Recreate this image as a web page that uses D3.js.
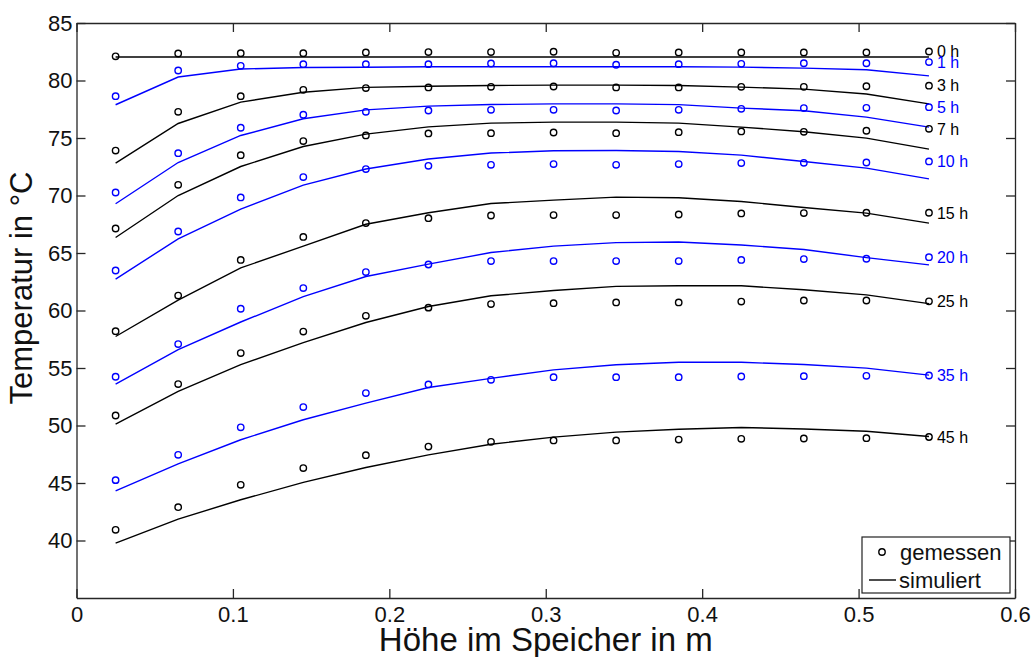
<!DOCTYPE html>
<html>
<head>
<meta charset="utf-8">
<script src="https://cdn.jsdelivr.net/npm/d3@7"></script>
<style>
  body { margin: 0; background: #fff; }
  svg { font-family: "Liberation Sans", Arial, sans-serif; }
</style>
</head>
<body>
<svg id="chart"></svg>
<script>
// Heights in the tank (m)
const heights = [0.025, 0.065, 0.105, 0.145, 0.185, 0.225, 0.265, 0.305, 0.345, 0.385, 0.425, 0.465, 0.505, 0.545];

// Series labels (time)
const labels = ["0 h", "1 h", "3 h", "5 h", "7 h", "10 h", "15 h", "20 h", "25 h", "35 h", "45 h"];

// Measured temperatures (gemessen)
const meas0 = [82.1, 82.35, 82.38, 82.38, 82.44, 82.47, 82.47, 82.5, 82.41, 82.44, 82.44, 82.44, 82.44, 82.52];
const meas1 = [78.64, 80.87, 81.28, 81.42, 81.42, 81.42, 81.48, 81.5, 81.37, 81.42, 81.45, 81.5, 81.5, 81.6];
const meas3 = [73.91, 77.28, 78.64, 79.19, 79.34, 79.4, 79.45, 79.48, 79.4, 79.4, 79.45, 79.45, 79.5, 79.55];
const meas5 = [70.26, 73.68, 75.89, 77.02, 77.28, 77.39, 77.45, 77.45, 77.39, 77.45, 77.54, 77.6, 77.62, 77.68];
const meas7 = [67.13, 70.93, 73.51, 74.73, 75.22, 75.4, 75.42, 75.48, 75.42, 75.51, 75.57, 75.54, 75.63, 75.8];
const meas10 = [63.48, 66.87, 69.83, 71.6, 72.3, 72.58, 72.67, 72.73, 72.67, 72.73, 72.82, 72.84, 72.87, 72.96];
const meas15 = [58.2, 61.3, 64.4, 66.4, 67.6, 68.03, 68.26, 68.3, 68.3, 68.35, 68.44, 68.47, 68.5, 68.5];
const meas20 = [54.24, 57.08, 60.15, 61.95, 63.34, 64.0, 64.3, 64.3, 64.3, 64.3, 64.4, 64.47, 64.5, 64.64];
const meas25 = [50.87, 53.6, 56.3, 58.17, 59.54, 60.25, 60.56, 60.64, 60.7, 60.7, 60.78, 60.87, 60.87, 60.8];
const meas35 = [45.25, 47.45, 49.84, 51.6, 52.82, 53.57, 53.97, 54.2, 54.2, 54.2, 54.26, 54.29, 54.32, 54.35];
const meas45 = [40.93, 42.9, 44.84, 46.3, 47.42, 48.17, 48.58, 48.7, 48.7, 48.78, 48.84, 48.87, 48.9, 49.0];

// Simulated temperatures (simuliert)
const sim0 = [82.05, 82.05, 82.05, 82.05, 82.05, 82.05, 82.05, 82.05, 82.05, 82.05, 82.05, 82.05, 82.05, 82.05];
const sim1 = [77.89, 80.3, 81.0, 81.13, 81.15, 81.19, 81.19, 81.19, 81.19, 81.19, 81.16, 81.08, 80.93, 80.4];
const sim3 = [72.82, 76.26, 78.12, 78.98, 79.4, 79.5, 79.57, 79.6, 79.6, 79.57, 79.42, 79.25, 78.82, 77.97];
const sim5 = [69.28, 72.87, 75.22, 76.67, 77.45, 77.77, 77.91, 77.97, 77.97, 77.9, 77.6, 77.37, 76.82, 75.95];
const sim7 = [66.35, 70.0, 72.52, 74.26, 75.34, 75.97, 76.29, 76.38, 76.38, 76.29, 75.95, 75.54, 74.99, 74.03];
const sim10 = [62.73, 66.23, 68.82, 70.9, 72.3, 73.17, 73.69, 73.89, 73.91, 73.83, 73.51, 72.96, 72.38, 71.45];
const sim15 = [57.74, 60.9, 63.7, 65.6, 67.5, 68.5, 69.3, 69.6, 69.86, 69.8, 69.48, 68.96, 68.47, 67.6];
const sim20 = [53.6, 56.6, 59.0, 61.2, 62.96, 64.03, 65.04, 65.6, 65.9, 65.95, 65.7, 65.3, 64.6, 63.97];
const sim25 = [50.12, 52.96, 55.3, 57.2, 58.96, 60.35, 61.28, 61.74, 62.1, 62.15, 62.15, 61.8, 61.36, 60.6];
const sim35 = [44.32, 46.67, 48.76, 50.5, 51.95, 53.3, 54.1, 54.84, 55.28, 55.5, 55.5, 55.3, 54.99, 54.38];
const sim45 = [39.77, 41.86, 43.54, 45.05, 46.35, 47.45, 48.37, 48.99, 49.42, 49.68, 49.83, 49.7, 49.5, 49.04];

const measured = [meas0, meas1, meas3, meas5, meas7, meas10, meas15, meas20, meas25, meas35, meas45];
const simulated = [sim0, sim1, sim3, sim5, sim7, sim10, sim15, sim20, sim25, sim35, sim45];
const colors = ["#000000", "#0000ff", "#000000", "#0000ff", "#000000", "#0000ff",
                "#000000", "#0000ff", "#000000", "#0000ff", "#000000"];

const xTicks = [0, 0.1, 0.2, 0.3, 0.4, 0.5, 0.6];
const yTicks = [40, 45, 50, 55, 60, 65, 70, 75, 80, 85];

const width = 1033, height = 657;
const margin = { left: 76.5, right: 1015, top: 23, bottom: 598 };
const axisColor = "#262626";

const svg = d3.select("#chart").attr("width", width).attr("height", height);

const x = d3.scaleLinear().domain([0, 0.6]).range([margin.left, margin.right]);
const y = d3.scaleLinear().domain([35, 85]).range([margin.bottom, margin.top]);

// axes (box with inward ticks)
function styleAxis(g) {
  g.selectAll("path, line").attr("stroke", axisColor).attr("stroke-width", 1.3);
  g.selectAll("text").attr("fill", "#111").style("font-size", "22px")
    .style("font-family", "'Liberation Sans', Arial, sans-serif");
}

svg.append("g").attr("transform", `translate(0,${margin.bottom})`)
  .call(d3.axisBottom(x).tickValues(xTicks).tickFormat(d3.format("~g"))
    .tickSizeInner(-9).tickSizeOuter(0).tickPadding(8))
  .call(styleAxis);

svg.append("g").attr("transform", `translate(0,${margin.top})`)
  .call(d3.axisTop(x).tickValues(xTicks).tickFormat("")
    .tickSizeInner(-9).tickSizeOuter(0))
  .call(styleAxis);

svg.append("g").attr("transform", `translate(${margin.left},0)`)
  .call(d3.axisLeft(y).tickValues(yTicks).tickSizeInner(-9).tickSizeOuter(0).tickPadding(4))
  .call(styleAxis);

svg.append("g").attr("transform", `translate(${margin.right},0)`)
  .call(d3.axisRight(y).tickValues(yTicks).tickFormat("")
    .tickSizeInner(-9).tickSizeOuter(0))
  .call(styleAxis);

// simulated lines
const line = d3.line().x((d, i) => x(heights[i])).y((d) => y(d));

svg.append("g").selectAll("path")
  .data(simulated)
  .enter()
  .append("path")
  .attr("d", line)
  .attr("fill", "none")
  .attr("stroke", (d, i) => colors[i])
  .attr("stroke-width", 1.4);

// measured points
measured.forEach((series, k) => {
  svg.append("g").selectAll("circle")
    .data(series)
    .enter()
    .append("circle")
    .attr("cx", (d, i) => x(heights[i]))
    .attr("cy", (d) => y(d))
    .attr("r", 3.2)
    .attr("fill", "none")
    .attr("stroke", colors[k])
    .attr("stroke-width", 1.4);
});

// time labels at right end
svg.append("g").selectAll("text")
  .data(labels)
  .enter()
  .append("text")
  .attr("x", x(heights[heights.length - 1]) + 8)
  .attr("y", (d, i) => y(measured[i][heights.length - 1]))
  .attr("dy", "0.36em")
  .attr("fill", (d, i) => colors[i])
  .style("font-size", "16px")
  .text((d) => d);

// legend
const legend = svg.append("g");
legend.append("rect")
  .attr("x", 862).attr("y", 537).attr("width", 148).attr("height", 56)
  .attr("fill", "#fff").attr("stroke", "#222").attr("stroke-width", 1.2);
legend.append("circle")
  .attr("cx", 882).attr("cy", 552).attr("r", 3.2)
  .attr("fill", "none").attr("stroke", "#000").attr("stroke-width", 1.4);
legend.append("text").attr("x", 900).attr("y", 560)
  .style("font-size", "22px").attr("fill", "#111").text("gemessen");
legend.append("line")
  .attr("x1", 869).attr("x2", 896).attr("y1", 580).attr("y2", 580)
  .attr("stroke", "#000").attr("stroke-width", 1.4);
legend.append("text").attr("x", 899).attr("y", 588)
  .style("font-size", "22px").attr("fill", "#111").text("simuliert");

// axis titles
svg.append("text")
  .attr("x", (margin.left + margin.right) / 2)
  .attr("y", 651)
  .attr("text-anchor", "middle")
  .style("font-size", "33px")
  .attr("fill", "#111")
  .text("Höhe im Speicher in m");

svg.append("text")
  .attr("x", -288)
  .attr("y", 32)
  .attr("text-anchor", "middle")
  .attr("transform", "rotate(-90)")
  .style("font-size", "31px")
  .attr("fill", "#111")
  .text("Temperatur in °C");
</script>
</body>
</html>
